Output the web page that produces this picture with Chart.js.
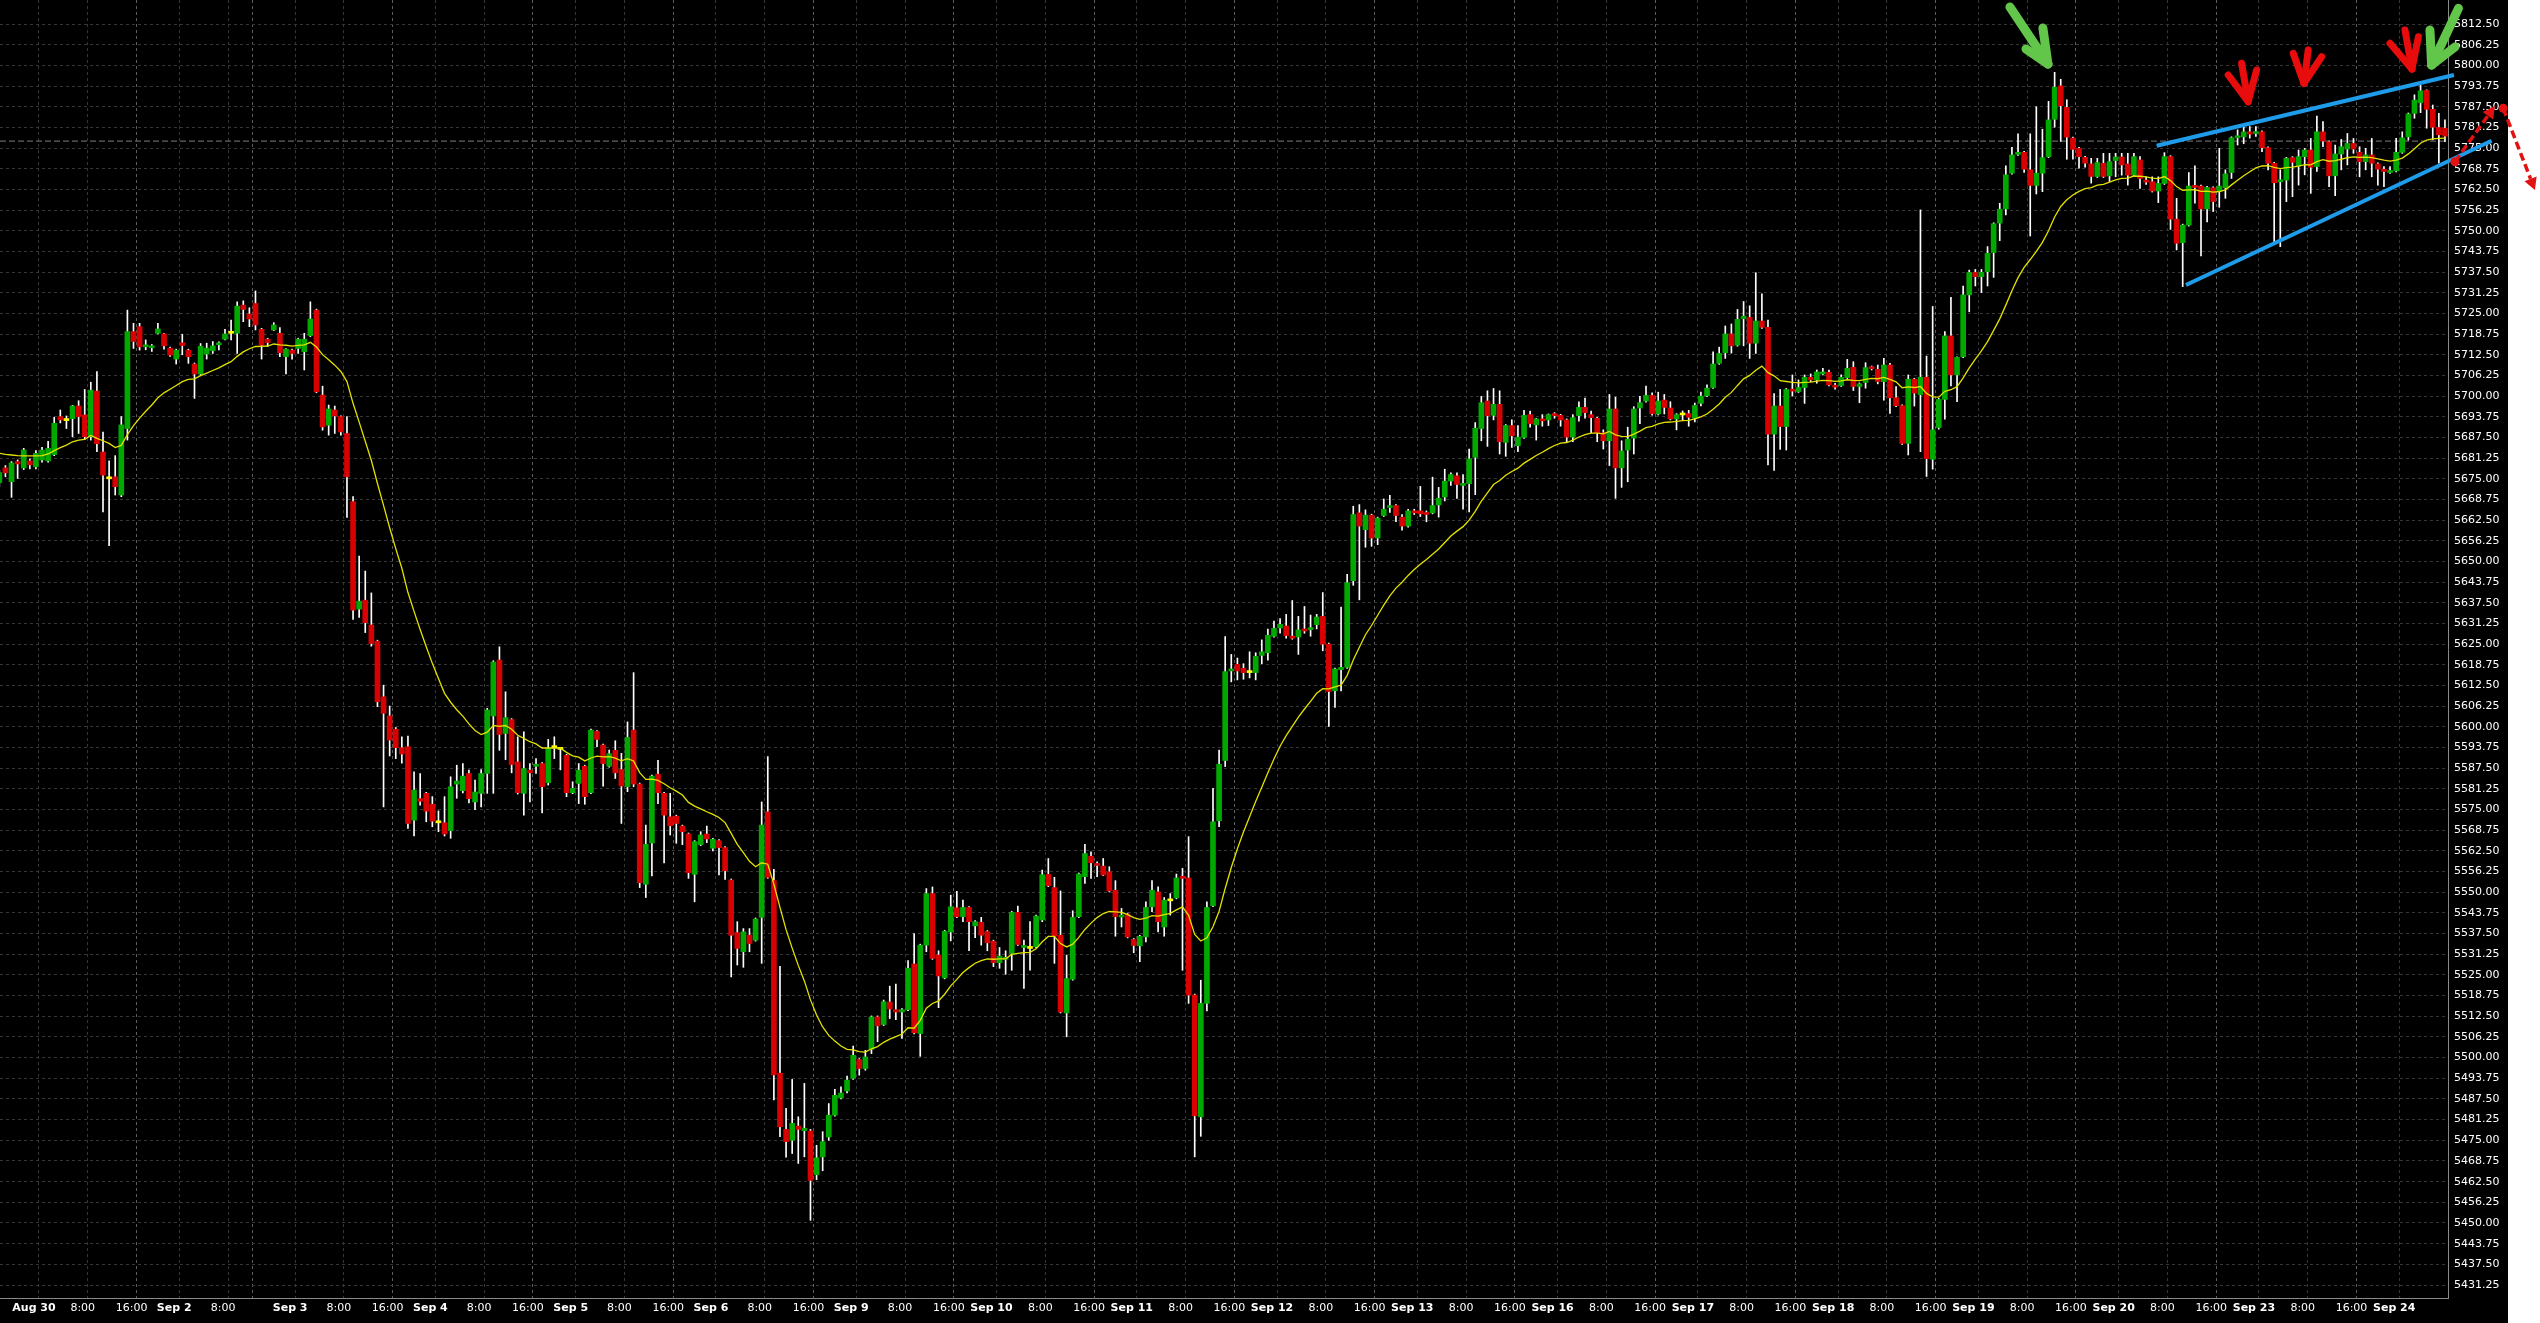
<!DOCTYPE html>
<html>
<head>
<meta charset="utf-8">
<script src="https://cdn.jsdelivr.net/npm/chart.js@4.4.0/dist/chart.umd.min.js"></script>
<style>
html,body{margin:0;padding:0;background:#ffffff;overflow:hidden;}
#wrap{position:relative;width:2540px;height:1323px;}
</style>
</head>
<body>
<div id="wrap"><canvas id="c"></canvas></div>
<script>
// ---- hourly candles, index k = -7 .. 394 (k = 0 is Aug 30 0:00) ----
const firstIndex = -7;

const opens = [
5673.8,5678.3,5674.1,5680.2,5678.3,5680.4,5678.6,5680.7,5680.4,5682.3,
5693.8,5692.6,5693.2,5697.0,5694.3,5687.7,5701.5,5683.1,5675.0,5675.6,
5670.1,5690.2,5719.5,5721.0,5714.9,5714.6,5719.0,5718.8,5714.5,5711.2,
5716.1,5713.9,5709.7,5706.7,5712.7,5713.7,5715.5,5717.2,5719.0,5719.0,
5727.5,5724.8,5728.0,5720.2,5717.2,5720.0,5719.0,5711.9,5713.9,5714.4,
5713.4,5718.3,5726.0,5700.3,5691.2,5695.8,5693.8,5688.7,5668.1,5635.6,
5638.3,5630.8,5625.9,5609.1,5603.3,5599.3,5593.7,5594.0,5571.8,5578.3,
5579.9,5576.6,5571.0,5571.0,5568.6,5582.7,5580.7,5585.9,5577.3,5579.9,
5585.9,5603.3,5620.2,5598.0,5602.2,5589.4,5579.9,5586.9,5588.1,5588.9,
5583.1,5593.7,5593.2,5591.4,5580.1,5582.9,5588.1,5580.1,5598.6,5594.5,
5588.1,5592.9,5587.1,5581.9,5599.0,5582.7,5552.4,5564.9,5585.7,5579.9,
5572.8,5573.0,5570.0,5567.6,5555.4,5564.4,5567.6,5563.3,5565.6,5563.5,
5553.7,5537.8,5532.0,5537.0,5535.5,5542.4,5574.3,5553.5,5495.3,5478.3,
5475.0,5479.3,5477.9,5477.8,5464.6,5470.0,5476.0,5482.6,5487.8,5489.9,
5493.7,5499.4,5496.7,5502.5,5512.3,5510.0,5516.8,5514.5,5513.8,5514.5,
5528.3,5507.3,5534.0,5549.6,5531.0,5524.1,5538.0,5545.3,5542.6,5545.4,
5539.8,5540.9,5538.1,5535.2,5528.7,5529.7,5531.5,5543.9,5533.3,5533.0,
5533.5,5541.6,5555.4,5551.4,5537.0,5513.5,5523.7,5542.6,5554.7,5560.9,
5558.7,5557.9,5556.2,5550.6,5542.5,5543.4,5535.7,5533.8,5536.5,5545.6,
5550.1,5539.5,5547.4,5548.3,5554.5,5554.3,5518.9,5482.1,5516.4,5545.9,
5571.6,5589.8,5616.9,5618.9,5617.7,5616.4,5616.4,5621.6,5622.4,5627.4,
5629.9,5630.5,5627.4,5627.2,5629.6,5629.4,5630.9,5633.4,5625.0,5610.9,
5617.3,5618.0,5644.2,5664.7,5659.6,5664.0,5657.1,5663.9,5666.3,5666.9,
5663.4,5660.7,5665.3,5665.3,5664.5,5664.7,5667.1,5669.5,5674.3,5675.9,
5673.0,5673.5,5681.5,5690.2,5698.5,5694.2,5697.5,5686.0,5691.1,5685.0,
5687.5,5694.4,5691.3,5693.1,5692.8,5694.4,5694.2,5692.8,5687.6,5694.1,
5696.6,5694.4,5693.3,5688.9,5686.5,5696.1,5678.3,5683.7,5687.3,5696.4,
5698.5,5700.2,5694.6,5698.8,5696.4,5693.1,5694.3,5694.7,5693.3,5697.8,
5700.1,5702.6,5709.9,5713.1,5718.8,5715.4,5723.4,5723.8,5716.0,5722.7,
5720.8,5688.5,5697.0,5690.8,5702.0,5701.4,5702.6,5705.7,5704.9,5706.7,
5707.2,5703.1,5703.2,5705.6,5708.7,5702.9,5704.1,5708.7,5708.1,5704.4,
5709.4,5699.5,5697.1,5685.7,5705.1,5700.4,5705.7,5680.9,5690.5,5699.0,
5718.2,5706.4,5711.9,5730.6,5737.4,5736.1,5737.6,5743.4,5752.3,5756.6,
5767.4,5773.1,5773.7,5768.4,5763.7,5767.4,5772.4,5783.7,5793.8,5787.3,
5778.0,5774.9,5772.2,5770.2,5766.4,5770.4,5766.6,5771.2,5772.3,5770.2,
5766.8,5771.4,5765.1,5764.8,5762.0,5764.3,5772.4,5753.5,5746.4,5751.7,
5763.5,5763.5,5756.6,5763.0,5762.0,5763.0,5767.6,5778.1,5778.4,5779.9,
5779.4,5779.9,5775.1,5770.4,5764.8,5765.3,5772.1,5769.6,5772.4,5774.4,
5769.4,5779.9,5776.9,5766.6,5773.2,5774.7,5776.4,5773.7,5770.9,5772.9,
5770.2,5768.6,5767.6,5768.1,5773.7,5778.4,5785.5,5788.7,5792.4,5786.7,
5781.2,5781.0
];

const highs = [
5677.5,5679.0,5680.2,5680.7,5684.2,5681.0,5683.5,5684.5,5686.3,5693.6,
5695.8,5694.0,5697.2,5698.6,5702.0,5704.2,5707.4,5689.1,5680.4,5682.0,
5693.8,5726.0,5722.0,5722.0,5717.0,5715.6,5722.0,5719.0,5714.8,5714.2,
5718.7,5714.2,5710.0,5715.9,5716.0,5716.5,5716.4,5720.2,5723.0,5728.5,
5728.8,5726.7,5731.8,5720.5,5717.5,5722.2,5720.7,5714.4,5714.2,5717.5,
5719.0,5728.5,5726.3,5703.0,5697.3,5697.0,5694.0,5693.8,5669.6,5651.6,
5647.1,5640.5,5626.2,5612.6,5606.3,5599.8,5597.0,5597.2,5586.4,5585.9,
5580.2,5578.9,5574.6,5578.9,5584.9,5588.4,5588.9,5586.9,5583.9,5587.1,
5605.6,5620.0,5624.2,5610.6,5602.5,5597.0,5598.5,5588.9,5590.4,5589.2,
5596.2,5597.0,5593.5,5591.7,5583.4,5588.9,5588.4,5599.3,5598.9,5594.8,
5593.0,5595.8,5592.0,5601.5,5616.4,5583.0,5570.3,5585.4,5589.9,5580.2,
5579.9,5573.3,5570.3,5567.9,5565.6,5568.3,5570.0,5566.3,5565.9,5563.8,
5554.0,5541.1,5539.0,5539.0,5542.2,5577.3,5591.0,5556.9,5527.6,5484.7,
5493.4,5482.1,5492.2,5478.3,5473.5,5477.6,5486.1,5490.4,5491.2,5494.4,
5503.5,5499.7,5502.2,5512.6,5512.6,5517.4,5521.6,5522.2,5514.8,5529.3,
5537.5,5534.3,5551.1,5551.6,5532.3,5538.5,5549.1,5550.3,5547.6,5545.7,
5541.4,5542.4,5538.4,5535.5,5533.3,5532.3,5544.2,5545.8,5535.5,5541.1,
5543.1,5556.7,5560.2,5554.5,5550.4,5531.0,5544.4,5555.8,5564.5,5562.2,
5559.2,5560.2,5557.7,5553.5,5545.1,5543.7,5536.0,5537.0,5547.1,5553.5,
5551.6,5548.4,5549.6,5555.5,5557.2,5566.8,5519.2,5523.4,5547.1,5581.4,
5593.0,5627.3,5621.9,5620.8,5619.1,5622.7,5622.4,5626.3,5629.6,5632.0,
5632.7,5634.0,5638.2,5633.4,5636.4,5633.8,5634.0,5640.6,5625.3,5617.8,
5636.2,5646.1,5666.7,5667.2,5665.6,5664.3,5663.4,5668.9,5670.0,5667.2,
5664.2,5665.8,5665.8,5672.7,5665.3,5675.5,5672.4,5677.9,5676.8,5676.8,
5676.3,5684.0,5692.0,5699.9,5701.6,5702.3,5701.6,5691.4,5692.8,5691.1,
5695.7,5695.5,5693.3,5694.4,5694.6,5695.0,5694.5,5693.1,5694.4,5698.3,
5699.4,5695.5,5693.6,5689.8,5700.5,5699.7,5686.5,5690.6,5696.8,5699.9,
5703.0,5701.0,5701.2,5700.5,5698.3,5694.7,5695.5,5695.7,5697.9,5701.2,
5703.4,5713.4,5714.8,5721.2,5721.8,5726.2,5728.6,5727.3,5737.3,5730.9,
5723.0,5700.8,5702.0,5702.3,5706.4,5704.9,5706.4,5706.7,5707.9,5708.4,
5707.9,5703.9,5706.4,5711.1,5710.4,5704.0,5710.1,5709.1,5709.4,5711.4,
5709.9,5702.9,5697.4,5706.4,5705.4,5756.3,5712.1,5727.1,5699.3,5719.5,
5729.9,5711.9,5733.3,5738.1,5738.3,5738.3,5745.2,5752.4,5758.3,5769.6,
5775.2,5779.3,5774.0,5779.3,5787.5,5780.7,5789.1,5797.9,5795.8,5789.6,
5778.3,5775.2,5772.5,5771.9,5771.9,5773.4,5773.4,5773.4,5773.4,5773.4,
5773.4,5772.4,5766.3,5766.3,5766.3,5773.6,5772.7,5759.8,5752.0,5767.6,
5769.6,5763.8,5763.4,5763.3,5774.9,5768.4,5778.4,5780.5,5781.5,5781.5,
5781.5,5780.2,5775.4,5770.7,5768.4,5772.2,5772.4,5774.4,5774.9,5777.9,
5784.7,5783.0,5777.2,5775.9,5777.6,5779.4,5777.9,5775.4,5774.9,5777.9,
5770.5,5769.4,5769.4,5777.9,5779.9,5785.6,5791.1,5794.1,5792.6,5788.0,
5785.5,5783.5
];

const lows = [
5672.6,5675.6,5669.4,5675.1,5677.8,5678.0,5678.0,5680.0,5680.0,5682.0,
5691.9,5690.2,5687.7,5688.7,5686.9,5686.7,5683.2,5665.0,5654.8,5670.1,
5669.6,5686.7,5714.4,5713.9,5714.0,5713.5,5718.8,5714.2,5712.0,5709.7,
5712.5,5709.9,5699.3,5706.5,5711.2,5712.9,5714.0,5717.0,5717.0,5712.9,
5722.5,5721.0,5720.0,5711.2,5715.0,5719.8,5711.9,5706.7,5711.2,5712.9,
5707.9,5718.0,5701.0,5689.7,5688.2,5688.7,5688.2,5663.3,5632.5,5633.1,
5628.5,5624.4,5606.1,5575.8,5591.2,5590.4,5589.0,5569.3,5567.0,5576.3,
5571.3,5569.8,5568.3,5567.0,5566.3,5578.4,5580.0,5577.0,5575.0,5575.8,
5579.9,5579.9,5592.9,5590.1,5586.1,5579.7,5573.3,5577.3,5585.9,5574.0,
5582.4,5590.4,5587.0,5578.9,5579.8,5576.8,5576.6,5579.8,5594.0,5582.1,
5587.8,5584.4,5570.8,5580.4,5581.9,5551.4,5548.4,5554.9,5576.8,5558.9,
5567.3,5564.8,5564.4,5554.2,5547.1,5564.1,5565.0,5562.5,5555.2,5553.9,
5524.4,5528.0,5527.3,5532.0,5535.2,5528.5,5554.2,5487.2,5476.1,5469.9,
5471.0,5468.0,5470.0,5450.8,5463.1,5465.8,5475.0,5482.3,5487.5,5489.3,
5493.4,5494.7,5496.2,5501.2,5504.8,5509.7,5511.8,5511.5,5505.8,5514.2,
5507.2,5500.4,5532.0,5529.7,5515.1,5523.8,5535.3,5542.3,5541.1,5532.3,
5536.3,5534.0,5532.3,5527.5,5527.0,5525.2,5526.4,5533.9,5520.9,5526.4,
5533.2,5541.1,5551.7,5528.5,5513.5,5506.3,5523.4,5542.3,5552.7,5554.2,
5554.7,5555.0,5550.1,5536.7,5539.5,5536.2,5531.7,5529.0,5535.0,5544.1,
5538.0,5536.7,5543.1,5548.0,5526.4,5516.4,5470.0,5476.2,5514.1,5545.6,
5569.8,5588.0,5613.6,5614.2,5614.4,5614.8,5614.2,5619.1,5620.2,5627.1,
5628.3,5626.8,5626.5,5621.9,5628.3,5627.4,5629.6,5623.0,5600.1,5605.9,
5610.9,5617.7,5642.8,5638.4,5654.3,5654.6,5655.1,5663.6,5664.8,5662.0,
5659.5,5660.4,5664.2,5663.6,5662.0,5664.4,5663.4,5668.3,5673.0,5669.1,
5665.8,5665.0,5670.2,5686.5,5684.8,5692.8,5682.5,5681.8,5684.5,5683.2,
5687.2,5690.6,5686.7,5690.9,5691.1,5693.3,5690.9,5686.2,5686.2,5692.4,
5693.3,5688.9,5686.2,5684.0,5679.0,5669.1,5672.4,5674.1,5682.5,5691.7,
5698.2,5694.2,5694.3,5694.6,5692.8,5689.8,5692.8,5690.9,5692.2,5697.0,
5699.8,5702.3,5709.6,5711.4,5713.0,5715.1,5715.2,5711.4,5712.9,5720.5,
5679.2,5677.5,5683.9,5683.7,5700.0,5701.1,5697.8,5704.4,5703.9,5706.4,
5703.1,5702.1,5702.9,5705.3,5701.7,5698.0,5702.4,5707.9,5703.7,5698.8,
5694.8,5696.8,5685.4,5682.2,5697.0,5683.2,5675.7,5677.9,5690.0,5693.0,
5703.1,5698.3,5711.6,5725.5,5733.3,5731.3,5733.3,5735.9,5747.0,5754.8,
5767.1,5772.8,5767.6,5748.4,5761.1,5761.8,5772.1,5781.3,5777.0,5771.6,
5771.6,5768.9,5769.2,5764.4,5766.1,5766.1,5764.9,5766.3,5766.8,5763.8,
5766.5,5762.8,5764.0,5761.7,5758.5,5764.0,5750.4,5744.2,5733.1,5751.4,
5758.3,5742.4,5752.7,5755.8,5757.1,5759.8,5765.8,5775.9,5776.3,5778.0,
5778.5,5773.9,5768.4,5746.7,5745.2,5758.8,5760.3,5763.8,5766.9,5761.3,
5767.9,5775.4,5763.3,5760.6,5768.4,5769.9,5773.4,5766.3,5768.4,5766.3,
5763.8,5763.3,5767.3,5767.8,5773.4,5777.4,5784.0,5785.7,5781.0,5777.5,
5770.4,5776.9
];

const closes = [
5676.9,5676.8,5679.8,5679.5,5683.7,5679.2,5682.7,5683.7,5684.2,5691.8,
5692.8,5692.6,5697.0,5693.8,5687.7,5701.8,5685.6,5676.1,5675.0,5672.6,
5691.3,5719.5,5716.5,5714.9,5715.4,5715.1,5720.3,5715.2,5712.4,5713.9,
5715.3,5711.9,5706.7,5715.1,5714.5,5715.2,5716.1,5718.8,5719.0,5727.2,
5726.2,5723.3,5721.5,5715.4,5716.2,5721.5,5713.1,5714.2,5712.9,5717.2,
5717.2,5723.3,5701.3,5690.7,5696.1,5694.0,5689.2,5675.6,5635.3,5638.0,
5631.5,5625.2,5607.6,5604.1,5596.0,5593.7,5591.8,5570.8,5580.9,5577.5,
5574.5,5571.5,5571.0,5567.6,5581.9,5583.6,5585.1,5578.3,5580.3,5585.9,
5605.1,5619.6,5597.7,5602.8,5588.6,5580.1,5587.4,5586.1,5588.6,5581.9,
5593.5,5593.7,5593.2,5580.1,5581.4,5586.9,5578.9,5599.0,5596.2,5588.9,
5591.9,5586.1,5582.1,5596.8,5582.7,5552.9,5564.5,5585.1,5580.1,5573.3,
5570.1,5570.8,5568.3,5555.9,5565.3,5567.3,5566.1,5566.0,5563.5,5556.5,
5537.0,5533.0,5538.0,5534.5,5541.9,5570.3,5554.5,5494.8,5479.1,5474.6,
5480.1,5478.3,5478.6,5462.9,5469.7,5474.6,5482.6,5488.6,5489.3,5493.2,
5500.7,5496.7,5500.2,5512.3,5509.6,5516.9,5514.7,5513.8,5514.5,5527.0,
5507.5,5534.0,5549.6,5530.0,5524.7,5538.2,5545.6,5542.6,5545.4,5541.1,
5541.1,5537.0,5534.7,5528.7,5530.7,5530.3,5543.9,5534.2,5533.9,5533.0,
5542.8,5555.3,5552.0,5536.7,5513.8,5523.9,5542.4,5555.5,5561.7,5558.9,
5558.1,5555.2,5550.4,5542.6,5542.8,5536.5,5533.9,5536.7,5545.4,5550.6,
5541.1,5547.6,5547.4,5554.3,5554.2,5518.9,5482.4,5516.4,5545.4,5571.3,
5588.7,5616.7,5617.5,5616.9,5616.4,5616.4,5621.3,5622.7,5627.7,5629.8,
5631.0,5627.6,5626.8,5629.3,5629.0,5629.8,5633.2,5625.0,5610.7,5617.5,
5618.0,5643.6,5664.2,5660.7,5664.0,5657.1,5663.1,5665.8,5666.6,5663.9,
5660.7,5665.3,5664.7,5664.4,5664.2,5666.9,5669.1,5674.3,5676.3,5673.3,
5673.4,5681.0,5690.3,5698.0,5694.1,5697.5,5686.2,5691.1,5688.0,5687.6,
5694.2,5691.7,5693.1,5692.5,5694.4,5694.1,5692.8,5687.6,5693.5,5696.6,
5695.0,5693.5,5688.9,5686.5,5696.1,5678.3,5683.4,5687.0,5696.1,5698.0,
5700.2,5694.7,5698.5,5696.6,5693.1,5694.4,5694.3,5693.6,5697.2,5700.0,
5702.4,5709.7,5712.9,5718.8,5715.2,5723.2,5724.2,5716.0,5722.7,5720.8,
5688.5,5697.0,5690.8,5702.0,5701.5,5702.6,5705.7,5704.9,5707.3,5707.3,
5703.4,5702.7,5705.7,5708.4,5702.9,5703.7,5708.6,5708.3,5704.4,5709.4,
5699.5,5697.1,5685.7,5705.1,5700.9,5705.7,5681.1,5689.8,5699.0,5718.2,
5706.4,5711.7,5730.6,5737.4,5736.1,5737.4,5743.2,5752.1,5756.5,5766.9,
5772.9,5773.7,5768.6,5763.7,5767.4,5772.1,5783.5,5793.4,5787.8,5778.3,
5774.6,5772.4,5770.4,5766.4,5770.6,5766.4,5770.9,5772.3,5769.9,5766.8,
5772.4,5765.8,5764.7,5762.0,5764.3,5772.4,5753.5,5746.2,5751.7,5763.5,
5763.1,5756.6,5763.1,5758.8,5763.5,5767.2,5778.1,5778.4,5779.9,5779.2,
5779.9,5775.1,5770.4,5764.5,5765.3,5771.9,5770.7,5772.4,5774.4,5769.2,
5779.9,5777.1,5766.6,5773.2,5775.4,5776.4,5774.7,5770.9,5772.9,5770.4,
5768.6,5767.9,5768.1,5773.7,5778.1,5785.3,5789.5,5792.3,5786.7,5781.3,
5779.0,5778.6
];

// moving-average values for the first candles; the chart's
// 20-period exponential average of the closes continues from the last of them
const maLead = [5682.7,5682.4,5682.2,5682.0,5681.9,5681.9,5681.9,5682.0,5682.5,5683.5,
                5684.4,5685.2,5686.2,5686.7,5686.9,5688.1,5687.2,5686.5,5685.7];
const maPeriod = 20;

// x-axis ticks (candle index of the hour) and their labels
const tickPos = [0,8,16,23,31,35,42,50,58,65,73,81,88,96,104,111,119,127,134,142,150,157,165,173,
  180,188,196,203,211,219,226,234,242,249,257,265,272,280,288,295,303,311,318,326,334,341,349,357,364,372,380,387];
const tickText = ['Aug 30','8:00','16:00','Sep 2','8:00','16:00','Sep 3','8:00','16:00','Sep 4','8:00','16:00',
  'Sep 5','8:00','16:00','Sep 6','8:00','16:00','Sep 9','8:00','16:00','Sep 10','8:00','16:00',
  'Sep 11','8:00','16:00','Sep 12','8:00','16:00','Sep 13','8:00','16:00','Sep 16','8:00','16:00',
  'Sep 17','8:00','16:00','Sep 18','8:00','16:00','Sep 19','8:00','16:00','Sep 20','8:00','16:00',
  'Sep 23','8:00','16:00','Sep 24'];
const hiddenTicks = [35];

// y-axis tick labels
const yTicks = [5431.25,5437.50,5443.75,5450.00,5456.25,5462.50,5468.75,5475.00,5481.25,5487.50,
  5493.75,5500.00,5506.25,5512.50,5518.75,5525.00,5531.25,5537.50,5543.75,5550.00,5556.25,5562.50,
  5568.75,5575.00,5581.25,5587.50,5593.75,5600.00,5606.25,5612.50,5618.75,5625.00,5631.25,5637.50,
  5643.75,5650.00,5656.25,5662.50,5668.75,5675.00,5681.25,5687.50,5693.75,5700.00,5706.25,5712.50,
  5718.75,5725.00,5731.25,5737.50,5743.75,5750.00,5756.25,5762.50,5768.75,5775.00,5781.25,5787.50,
  5793.75,5800.00,5806.25,5812.50];
const priceLevel = 5777.1;

// hand drawings (candle index, price)
const trendUpper = [[347.23,5775.71],[395.97,5797.08]];
const trendLower = [[352.03,5733.59],[402.15,5777.22]];
const redArrows = [
  {tail:[361.16,5800.62], tip:[362.24,5789.01], a:[358.96,5797.08], b:[363.62,5798.60]},
  {tail:[372.08,5804.64], tip:[371.38,5794.57], a:[369.62,5803.65], b:[374.28,5802.62]},
  {tail:[387.94,5810.69], tip:[389.08,5798.90], a:[385.48,5806.67], b:[390.15,5808.66]}
];
const greenArrows = [
  {tail:[323.17,5817.64], tip:[329.40,5800.41], a:[325.80,5804.95], b:[328.58,5811.29]},
  {tail:[396.71,5817.25], tip:[392.31,5800.11], a:[392.04,5810.69], b:[396.14,5805.55]}
];
const dashedArrows = [
  {from:[396.13,5770.87], to:[402.69,5787.71]},
  {from:[404.05,5787.02], to:[409.25,5762.32]}
];

// ---------------------------------------------------------------
const GREEN = '#00a800', RED = '#d80000', DOJI = '#ffff00';
const xPos = opens.map((_, i) => i + firstIndex + 0.5);
const wickData = xPos.map((x, i) => ({x, y: [lows[i], highs[i]]}));
const bodyData = xPos.map((x, i) => ({x, y: [opens[i], closes[i]]}));
const bodyColors = opens.map((o, i) => closes[i] > o ? GREEN : (closes[i] < o ? RED : DOJI));
const alpha = 2 / (maPeriod + 1);
const maValues = [];
closes.forEach((c, i) => {
  if (i < maLead.length) maValues.push(maLead[i]);
  else maValues.push(maValues[i - 1] + alpha * (c - maValues[i - 1]));
});
const maData = maValues.map((v, i) => ({x: xPos[i], y: v}));
const X_MIN = -6.39, X_MAX = 395.0;
const tickMap = {}; tickPos.forEach((p, i) => tickMap[p] = tickText[i]);
const isDate = v => { const t = tickMap[v] || ''; return /^[A-Z]/.test(t); };

const bgPlugin = {
  id: 'bg',
  beforeDraw(chart) {
    const c = chart.ctx;
    c.save();
    c.fillStyle = '#000000';
    c.fillRect(0, 0, chart.chartArea.right + 60, chart.height);
    c.fillStyle = '#ffffff';
    c.fillRect(chart.chartArea.right + 60, 0, chart.width, chart.height);
    c.restore();
  }
};

const drawPlugin = {
  id: 'drawings',
  afterDraw(chart) {
    const xs = chart.scales.x, ys = chart.scales.y, c = chart.ctx;
    const P = p => [xs.getPixelForValue(p[0]), ys.getPixelForValue(p[1])];
    const line = (a, b) => { const A = P(a), B = P(b); c.beginPath(); c.moveTo(A[0], A[1]); c.lineTo(B[0], B[1]); c.stroke(); };
    c.save();
    c.strokeStyle = '#1e9be9'; c.lineWidth = 4; c.lineCap = 'butt';
    line(trendUpper[0], trendUpper[1]);
    line(trendLower[0], trendLower[1]);
    c.lineCap = 'round'; c.lineJoin = 'round';
    c.strokeStyle = '#e80c0c'; c.lineWidth = 7;
    redArrows.forEach(a => { line(a.tail, a.tip); line(a.a, a.tip); line(a.b, a.tip); });
    c.strokeStyle = '#62c64a'; c.lineWidth = 9;
    greenArrows.forEach(a => { line(a.tail, a.tip); line(a.a, a.tip); line(a.b, a.tip); });
    c.strokeStyle = '#e31212'; c.fillStyle = '#e31212';
    dashedArrows.forEach(d => {
      const A = P(d.from), B = P(d.to);
      const ang = Math.atan2(B[1] - A[1], B[0] - A[0]);
      const hl = 12, hw = 6.5;
      const bx = B[0] - hl * Math.cos(ang), by = B[1] - hl * Math.sin(ang);
      c.lineWidth = 3.5; c.lineCap = 'butt'; c.setLineDash([8, 4]);
      c.beginPath(); c.moveTo(A[0], A[1]); c.lineTo(bx, by); c.stroke();
      c.setLineDash([]);
      c.beginPath(); c.arc(A[0], A[1], 4.5, 0, Math.PI * 2); c.fill();
      c.beginPath();
      c.moveTo(B[0], B[1]);
      c.lineTo(bx + hw * Math.sin(ang), by - hw * Math.cos(ang));
      c.lineTo(bx - hw * Math.sin(ang), by + hw * Math.cos(ang));
      c.closePath(); c.fill();
    });
    c.restore();
  }
};

new Chart(document.getElementById('c'), {
  type: 'bar',
  data: {
    datasets: [
      {type: 'line', data: [{x: X_MIN, y: priceLevel}, {x: X_MAX, y: priceLevel}], borderColor: '#7c7c7c',
       borderWidth: 1, borderDash: [6, 3], pointRadius: 0, order: 10},
      {type: 'bar', data: wickData, backgroundColor: '#ffffff', barThickness: 1, grouped: false,
       borderWidth: 0, order: 5},
      {type: 'bar', data: bodyData, backgroundColor: bodyColors, barThickness: 5, grouped: false,
       borderWidth: 0, minBarLength: 2, order: 4},
      {type: 'line', data: maData, borderColor: '#e2e200', borderWidth: 1.3, pointRadius: 0,
       tension: 0, order: 1}
    ]
  },
  options: {
    responsive: true,
    maintainAspectRatio: false,
    animation: false,
    events: [],
    layout: {padding: 0},
    plugins: {legend: {display: false}, tooltip: {enabled: false}},
    scales: {
      x: {
        type: 'linear', min: X_MIN, max: X_MAX, offset: false,
        afterBuildTicks: s => { s.ticks = tickPos.map(v => ({value: v})); },
        afterFit: s => { s.height = 25; s.paddingLeft = 0; s.paddingRight = 0; },
        grid: {
          offset: false, drawTicks: false, lineWidth: 1,
          color: ctx => (ctx.tick && (tickMap[ctx.tick.value] === '16:00')) ? '#5e5e5e' : '#363636'
        },
        border: {display: true, color: '#8a8a8a', width: 1, dash: [3, 3]},
        ticks: {
          autoSkip: false, maxRotation: 0, minRotation: 0, padding: 4, labelOffset: -5,
          color: '#ffffff',
          font: ctx => ({family: 'DejaVu Sans', size: 11, weight: (ctx.tick && isDate(ctx.tick.value)) ? 'bold' : 'normal'}),
          callback: v => hiddenTicks.includes(v) ? '' : (tickMap[v] || '')
        }
      },
      y: {
        type: 'linear', position: 'right', min: 5427.32, max: 5819.76, beginAtZero: false,
        afterBuildTicks: s => { s.ticks = yTicks.map(v => ({value: v})); },
        afterFit: s => { s.width = 92; s.paddingTop = 0; s.paddingBottom = 0; },
        grid: {drawTicks: false, color: '#363636', lineWidth: 1},
        border: {display: true, color: '#8a8a8a', width: 1, dash: [3, 3]},
        ticks: {
          autoSkip: false, padding: 6, color: '#ffffff',
          font: {family: 'DejaVu Sans', size: 11},
          callback: v => Number(v).toFixed(2)
        }
      }
    }
  },
  plugins: [bgPlugin, drawPlugin]
});
</script>
</body>
</html>
